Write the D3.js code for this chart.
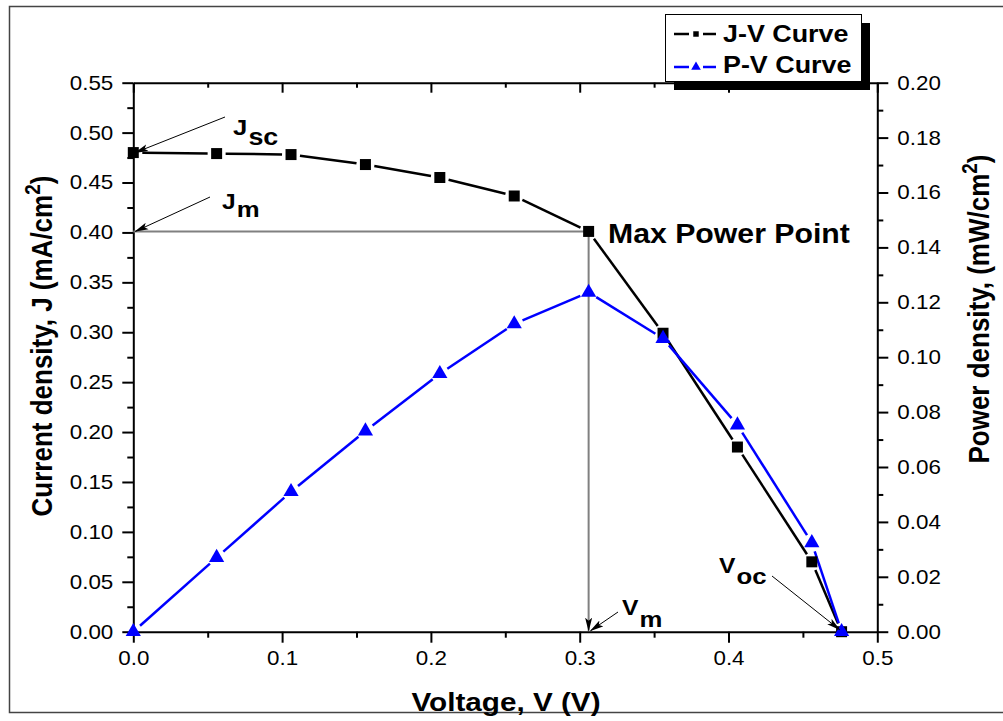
<!DOCTYPE html>
<html>
<head>
<meta charset="utf-8">
<script src="https://cdn.jsdelivr.net/npm/d3@7"></script>
<style>
  body { margin: 0; background: #fff; }
  text { font-family: "Liberation Sans", Arial, sans-serif; }
</style>
</head>
<body>
<div id="chart"></div>
<script>
const voltage = [0, 0.056, 0.106, 0.156, 0.206, 0.256, 0.306, 0.356, 0.406, 0.456, 0.476];
const currentDensity = [0.480, 0.479, 0.478, 0.468, 0.455, 0.4365, 0.401, 0.299, 0.185, 0.070, 0.0];
const powerDensity = [0.0, 0.0270, 0.0510, 0.0731, 0.0940, 0.1121, 0.1236, 0.1068, 0.0753, 0.0324, 0.0];
const seriesNames = ["J-V Curve", "P-V Curve"];
const xTicks = [0, 0.1, 0.2, 0.3, 0.4, 0.5];
const yLeftTicks = [0, 0.05, 0.1, 0.15, 0.2, 0.25, 0.3, 0.35, 0.4, 0.45, 0.5, 0.55];
const yRightTicks = [0, 0.02, 0.04, 0.06, 0.08, 0.1, 0.12, 0.14, 0.16, 0.18, 0.2];
const maxPoint = { v: 0.306, j: 0.401 };
const vocPoint = { v: 0.476, j: 0 };

const SX = 1.12; // the picture is a bit wider than tall, text too

const svg = d3.select("#chart").append("svg")
    .attr("width", 1003)
    .attr("height", 721);

const margin = { top: 82.7, left: 133.3 };
const width = 744, height = 549;

// outer frame (right side runs off the picture)
svg.append("rect")
    .attr("x", 9.5).attr("y", 6.5)
    .attr("width", 1010).attr("height", 706)
    .attr("fill", "none").attr("stroke", "#444").attr("stroke-width", 1.5);

const chart = svg.append("g")
    .attr("transform", `translate(${margin.left}, ${margin.top})`);

const xScale = d3.scaleLinear().domain([0, 0.5]).range([0, width]);
const yScale = d3.scaleLinear().domain([0, 0.55]).range([height, 0]);
const y2Scale = d3.scaleLinear().domain([0, 0.2]).range([height, 0]);

// stretch tick labels horizontally
function stretchLabels(g) {
    g.selectAll("text").each(function() {
        const t = d3.select(this);
        const x = +t.attr("x") || 0, y = +t.attr("y") || 0;
        t.attr("x", 0).attr("y", 0)
            .attr("transform", `translate(${x},${y}) scale(${SX},1)`);
    });
}

function styleAxis(g) {
    g.selectAll("text").attr("font-size", "20px").attr("fill", "#000")
        .style("font-family", "'Liberation Sans', Arial, sans-serif");
    g.selectAll("line").attr("stroke", "#000").attr("stroke-width", 2);
    g.select(".domain").attr("stroke", "#000").attr("stroke-width", 2);
    stretchLabels(g);
}

function minorTicks(step, max) {
    const out = [];
    for (let i = 1; i * step < max + 1e-9; i += 2) out.push(+(i * step).toFixed(4));
    return out;
}

// minor ticks
chart.append("g").attr("transform", `translate(0, ${height})`)
    .call(d3.axisBottom(xScale).tickValues(minorTicks(0.05, 0.5)).tickSize(6).tickFormat(""))
    .call(g => { g.select(".domain").remove(); g.selectAll("line").attr("stroke-width", 2); });
chart.append("g")
    .call(d3.axisTop(xScale).tickValues(minorTicks(0.05, 0.5)).tickSize(-5).tickFormat(""))
    .call(g => { g.select(".domain").remove(); g.selectAll("line").attr("stroke-width", 2); });
chart.append("g")
    .call(d3.axisLeft(yScale).tickValues(minorTicks(0.025, 0.55)).tickSize(6).tickFormat(""))
    .call(g => { g.select(".domain").remove(); g.selectAll("line").attr("stroke-width", 2); });
chart.append("g").attr("transform", `translate(${width}, 0)`)
    .call(d3.axisRight(y2Scale).tickValues(minorTicks(0.01, 0.2)).tickSize(6).tickFormat(""))
    .call(g => { g.select(".domain").remove(); g.selectAll("line").attr("stroke-width", 2); });

// major axes
chart.append("g").attr("transform", `translate(0, ${height})`)
    .call(d3.axisBottom(xScale).tickValues(xTicks).tickSize(11).tickSizeOuter(0)
        .tickPadding(8).tickFormat(d3.format(".1f")))
    .call(styleAxis);
chart.append("g")
    .call(d3.axisTop(xScale).tickValues(xTicks).tickSize(-10).tickSizeOuter(0).tickFormat(""))
    .call(styleAxis);
chart.append("g")
    .call(d3.axisLeft(yScale).tickValues(yLeftTicks).tickSize(11).tickSizeOuter(0)
        .tickPadding(9).tickFormat(d3.format(".2f")))
    .call(styleAxis);
chart.append("g").attr("transform", `translate(${width}, 0)`)
    .call(d3.axisRight(y2Scale).tickValues(yRightTicks).tickSize(11).tickSizeOuter(0)
        .tickPadding(9).tickFormat(d3.format(".2f")))
    .call(styleAxis);

// arrowhead
svg.append("defs").append("marker")
    .attr("id", "arrow")
    .attr("markerUnits", "userSpaceOnUse")
    .attr("viewBox", "0 0 14 8")
    .attr("markerWidth", 14).attr("markerHeight", 8)
    .attr("refX", 13).attr("refY", 4)
    .attr("orient", "auto")
    .append("path")
    .attr("d", "M0,0.5 L14,4 L0,7.5 L3,4 Z")
    .attr("fill", "#000");

// max power guide lines
chart.append("line")
    .attr("x1", xScale(maxPoint.v)).attr("y1", yScale(maxPoint.j))
    .attr("x2", xScale(0)).attr("y2", yScale(maxPoint.j))
    .attr("stroke", "#808080").attr("stroke-width", 2);
chart.append("line")
    .attr("x1", xScale(maxPoint.v)).attr("y1", yScale(maxPoint.j))
    .attr("x2", xScale(maxPoint.v)).attr("y2", yScale(0) - 1)
    .attr("stroke", "#808080").attr("stroke-width", 2)
    .attr("marker-end", "url(#arrow)");

// series
const jvData = voltage.map((v, i) => ({ v, val: currentDensity[i] }));
const pvData = voltage.map((v, i) => ({ v, val: powerDensity[i] }));

const square = d3.symbol().type(d3.symbolSquare);
const triangle = d3.symbol().type(d3.symbolTriangle);

// line segments stop short of the markers, like Origin does
function drawLines(data, yS, color, gap) {
    const pts = data.map(d => [xScale(d.v), yS(d.val)]);
    const segs = d3.pairs(pts).map(([a, b]) => {
        const dx = b[0] - a[0], dy = b[1] - a[1];
        const len = Math.hypot(dx, dy);
        const ux = dx / len, uy = dy / len;
        return [a[0] + ux * gap, a[1] + uy * gap, b[0] - ux * gap, b[1] - uy * gap, len];
    }).filter(s => s[4] > 2 * gap);
    chart.append("g").selectAll("line")
        .data(segs)
        .enter()
        .append("line")
        .attr("x1", s => s[0]).attr("y1", s => s[1])
        .attr("x2", s => s[2]).attr("y2", s => s[3])
        .attr("stroke", color)
        .attr("stroke-width", 2.5);
}

function drawMarkers(data, yS, color, sym, size) {
    chart.append("g").selectAll("path")
        .data(data)
        .enter()
        .append("path")
        .attr("transform", d => `translate(${xScale(d.v)},${yS(d.val)})`)
        .attr("d", sym.size(size)())
        .attr("fill", color);
}

drawLines(jvData, yScale, "#000", 9);
drawLines(pvData, y2Scale, "#0000ff", 9);
drawMarkers(jvData, yScale, "#000", square, 121);
drawMarkers(pvData, y2Scale, "#0000ff", triangle, 100);

// text helper: anchor point, horizontal stretch, optional rotation
function addText(parent, x, y, rotate) {
    return parent.append("text")
        .attr("transform", `translate(${x},${y}) scale(${SX},1)` + (rotate ? ` rotate(${rotate})` : ""))
        .attr("fill", "#000");
}

// annotation arrows (pixel tails, data tips)
function arrow(x1, y1, x2, y2) {
    svg.append("line")
        .attr("x1", x1).attr("y1", y1).attr("x2", x2).attr("y2", y2)
        .attr("stroke", "#000").attr("stroke-width", 1)
        .attr("marker-end", "url(#arrow)");
}
const px = v => margin.left + xScale(v);
const py = j => margin.top + yScale(j);

arrow(225, 117, px(0) + 2, py(currentDensity[0]));
arrow(210, 197, px(0) + 2, py(maxPoint.j));
arrow(618, 612, px(maxPoint.v) + 2, py(0) - 1);
arrow(772, 576, px(vocPoint.v) - 2, py(vocPoint.j) - 2);

function subLabel(x, y, main, sub, size, subSize, subDy) {
    const t = addText(svg, x, y).attr("font-size", size + "px").attr("font-weight", "bold");
    t.append("tspan").text(main);
    t.append("tspan").attr("font-size", subSize + "px").attr("dy", subDy).attr("dx", 1).text(sub);
}
subLabel(233, 135, "J", "sc", 23, 24, 10);
subLabel(222, 209, "J", "m", 22, 23, 8);
subLabel(622, 615, "V", "m", 22, 23, 12);
subLabel(719, 573, "V", "oc", 22, 23, 11);

addText(svg, 608, 243).attr("font-size", "27px").attr("font-weight", "bold").text("Max Power Point");

// axis titles
addText(svg, 506, 711).attr("font-size", "26.5px").attr("font-weight", "bold")
    .attr("text-anchor", "middle").text("Voltage, V (V)");

const leftTitle = addText(svg, 52, 346, -90).attr("font-size", "26px").attr("font-weight", "bold")
    .attr("text-anchor", "middle");
leftTitle.append("tspan").text("Current density, J (mA/cm");
leftTitle.append("tspan").attr("font-size", "19px").attr("dy", -11).text("2");
leftTitle.append("tspan").attr("dy", 11).text(")");

const rightTitle = addText(svg, 989, 309, -90).attr("font-size", "26px").attr("font-weight", "bold")
    .attr("text-anchor", "middle");
rightTitle.append("tspan").text("Power density, (mW/cm");
rightTitle.append("tspan").attr("font-size", "19px").attr("dy", -11).text("2");
rightTitle.append("tspan").attr("dy", 11).text(")");

// legend
const legend = svg.append("g");
legend.append("rect").attr("x", 674).attr("y", 23).attr("width", 196).attr("height", 67).attr("fill", "#000");
legend.append("rect").attr("x", 665.5).attr("y", 14.5).attr("width", 196).attr("height", 67)
    .attr("fill", "#fff").attr("stroke", "#000").attr("stroke-width", 1);

const legendColors = ["#000", "#0000ff"];
const legendSyms = [square.size(30)(), triangle.size(40)()];
seriesNames.forEach((name, i) => {
    const cy = 34 + i * 33;
    legend.append("line").attr("x1", 674).attr("x2", 689).attr("y1", cy).attr("y2", cy)
        .attr("stroke", legendColors[i]).attr("stroke-width", 2.5);
    legend.append("line").attr("x1", 703).attr("x2", 716).attr("y1", cy).attr("y2", cy)
        .attr("stroke", legendColors[i]).attr("stroke-width", 2.5);
    legend.append("path").attr("transform", `translate(696,${cy})`).attr("d", legendSyms[i]).attr("fill", legendColors[i]);
    addText(legend, 723, 42 + i * 31).attr("font-size", "24px").attr("font-weight", "bold").text(name);
});
</script>
</body>
</html>
